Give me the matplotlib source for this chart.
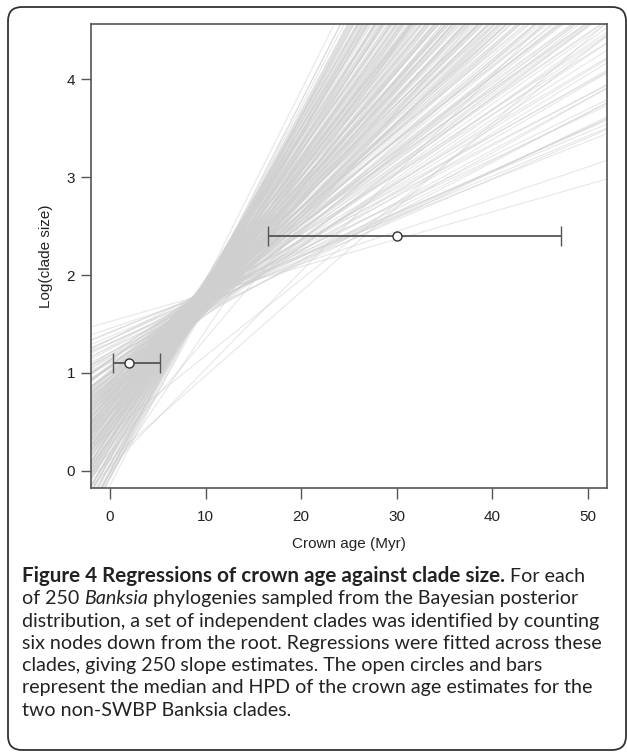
import matplotlib
matplotlib.use("Agg")
import matplotlib.pyplot as plt
from matplotlib.patches import FancyBboxPatch
from matplotlib.transforms import IdentityTransform

# posterior regression lines: slope and fitted log(clade size) at crown age 8 Myr
slopes = [
    0.028, 0.033, 0.043, 0.041, 0.042, 0.044, 0.039, 0.041,
    0.045, 0.046, 0.047, 0.048, 0.049, 0.050, 0.051, 0.052, 0.053, 0.054,
    0.055, 0.056, 0.057, 0.058, 0.059, 0.060, 0.061, 0.062, 0.064, 0.065,
    0.066, 0.067, 0.067, 0.068, 0.068, 0.069, 0.069, 0.070, 0.070, 0.071,
    0.071, 0.072, 0.072, 0.073, 0.073, 0.074, 0.074, 0.075, 0.075, 0.076,
    0.076, 0.077, 0.077, 0.078, 0.078, 0.079, 0.079, 0.080, 0.080, 0.081,
    0.081, 0.082, 0.082, 0.083, 0.083, 0.084, 0.084, 0.085, 0.085, 0.086,
    0.086, 0.087, 0.087, 0.088, 0.088, 0.089, 0.089, 0.090,
    0.090, 0.091, 0.091, 0.092, 0.092, 0.093, 0.093, 0.094, 0.094, 0.095,
    0.095, 0.096, 0.096, 0.097, 0.097, 0.098, 0.098, 0.099, 0.099, 0.100,
    0.100, 0.101, 0.101, 0.102, 0.102, 0.103, 0.103, 0.104, 0.104, 0.105,
    0.105, 0.106, 0.106, 0.107, 0.107, 0.108, 0.108, 0.109, 0.109, 0.110,
    0.091, 0.093, 0.095, 0.097, 0.099, 0.101, 0.103, 0.105, 0.107, 0.109,
    0.110, 0.111, 0.111, 0.112, 0.112, 0.113, 0.113, 0.114, 0.114, 0.115,
    0.115, 0.116, 0.116, 0.117, 0.117, 0.118, 0.118, 0.119, 0.119, 0.120,
    0.120, 0.121, 0.121, 0.122, 0.122, 0.123, 0.123, 0.124, 0.124, 0.125,
    0.125, 0.126, 0.126, 0.127, 0.127, 0.128, 0.128, 0.129, 0.129, 0.130,
    0.112, 0.116, 0.120, 0.124, 0.128,
    0.130, 0.131, 0.132, 0.132, 0.133, 0.134, 0.134, 0.135, 0.136, 0.136,
    0.137, 0.138, 0.138, 0.139, 0.140, 0.140, 0.141, 0.142, 0.142, 0.143,
    0.144, 0.144, 0.145, 0.146, 0.146, 0.147, 0.148, 0.148, 0.149, 0.150,
    0.133, 0.137, 0.141, 0.145, 0.146,
    0.150, 0.151, 0.152, 0.153, 0.154, 0.155, 0.155, 0.156, 0.157, 0.158,
    0.158, 0.159, 0.160, 0.161, 0.162, 0.162, 0.163, 0.164, 0.165, 0.166,
    0.167, 0.167, 0.168, 0.169, 0.170, 0.158,
    0.171, 0.172, 0.173, 0.174, 0.175, 0.176, 0.177, 0.178, 0.180, 0.181,
    0.182, 0.184, 0.185, 0.187, 0.188, 0.190, 0.192, 0.195,
]
fit_at_8 = [
    1.75, 1.72, 1.69, 1.70, 1.64, 1.66, 1.73, 1.74,
    1.62, 1.71, 1.55, 1.68, 1.60, 1.74, 1.52, 1.66, 1.58, 1.70,
    1.49, 1.63, 1.56, 1.67, 1.61, 1.53, 1.69, 1.57, 1.64, 1.51,
    1.58, 1.66, 1.49, 1.72, 1.61, 1.54, 1.69, 1.45, 1.63, 1.57,
    1.70, 1.51, 1.65, 1.59, 1.48, 1.67, 1.55, 1.62, 1.73, 1.44,
    1.60, 1.53, 1.68, 1.57, 1.02, 1.64, 1.50, 1.71, 1.56, 1.61,
    1.47, 1.66, 1.58, 1.52, 1.69, 1.55, 1.63, 1.46, 1.67, 1.59,
    0.80, 1.54, 1.65, 1.49, 1.62, 1.57, 1.70, 1.51,
    1.62, 1.55, 1.68, 1.49, 1.59, 1.71, 1.52, 1.64, 1.57, 1.46,
    1.66, 1.60, 1.53, 1.69, 1.43, 1.58, 1.63, 1.50, 1.67, 1.55,
    0.84, 1.61, 1.48, 1.70, 1.56, 1.65, 1.41, 1.59, 1.54, 1.68,
    1.51, 1.62, 1.47, 1.66, 1.57, 1.44, 1.60, 1.53, 1.69, 1.58,
    1.64, 1.50, 1.56, 1.61, 1.45, 1.67, 1.52, 1.59, 1.63, 1.48,
    1.57, 1.63, 1.48, 1.66, 1.54, 1.60, 1.42, 1.69, 1.51, 1.58,
    1.64, 1.46, 1.55, 1.61, 1.39, 1.67, 1.52, 1.59, 1.45, 1.63,
    1.56, 1.70, 1.49, 1.58, 1.62, 1.43, 1.54, 1.66, 1.50, 1.60,
    1.57, 1.41, 1.64, 1.53, 1.59, 1.47, 1.68, 1.55, 1.62, 1.50,
    1.61, 1.12, 1.44, 1.65, 1.52,
    1.55, 1.61, 1.47, 1.64, 1.52, 1.58, 1.40, 1.66, 1.50, 1.57,
    1.62, 1.44, 1.54, 1.60, 1.38, 1.65, 1.51, 1.57, 1.46, 1.63,
    1.53, 1.68, 1.48, 1.56, 1.61, 1.42, 1.55, 1.64, 1.49, 1.59,
    1.58, 1.63, 1.46, 1.56, 1.14,
    1.53, 1.59, 1.45, 1.62, 1.50, 1.56, 1.39, 1.64, 1.48, 1.55,
    1.60, 1.43, 1.52, 1.58, 1.37, 1.63, 1.49, 1.55, 1.44, 1.61,
    1.51, 1.57, 1.46, 1.53, 1.41, 1.57,
    1.50, 1.56, 1.43, 1.52, 1.33, 1.54, 1.40, 1.49, 1.45, 1.51,
    1.38, 1.46, 1.42, 1.48, 1.36, 1.50, 1.47, 1.55,
]
pivot_age = 8

# two non-SWBP Banksia clades: median crown age, HPD and log(clade size)
crown_age = [1.95, 30.05]
hpd_low = [0.25, 16.5]
hpd_high = [5.25, 47.2]
log_size = [1.0986, 2.3979]

xticks = [0, 10, 20, 30, 40, 50]
yticks = [0, 1, 2, 3, 4]

caption = [
    [("Figure 4 Regressions of crown age against clade size.", "bold", "normal"),
     (" For each", "normal", "normal")],
    [("of 250 ", "normal", "normal"), ("Banksia", "normal", "italic"),
     (" phylogenies sampled from the Bayesian posterior", "normal", "normal")],
    [("distribution, a set of independent clades was identified by counting", "normal", "normal")],
    [("six nodes down from the root. Regressions were fitted across these", "normal", "normal")],
    [("clades, giving 250 slope estimates. The open circles and bars", "normal", "normal")],
    [("represent the median and HPD of the crown age estimates for the", "normal", "normal")],
    [("two non-SWBP Banksia clades.", "normal", "normal")],
]

W, H = 627, 752
fig = plt.figure(figsize=(W / 100, H / 100), dpi=100)
ax = fig.add_axes([91 / W, 1 - 488 / H, (607 - 91) / W, (488 - 24) / H])

for b, c in zip(slopes, fit_at_8):
    ax.axline((pivot_age, c), slope=b, color="#cfcfcf", alpha=0.5, lw=0.8, zorder=1)

ax.errorbar(crown_age, log_size,
            xerr=[[m - lo for m, lo in zip(crown_age, hpd_low)],
                  [hi - m for m, hi in zip(crown_age, hpd_high)]],
            fmt="o", ms=6.5, mfc="white", mec="#333333", mew=1.0,
            ecolor="#555555", elinewidth=1.3, capsize=7, capthick=1.3, zorder=3)

ax.set_xlim(-2, 52)
ax.set_ylim(-0.176, 4.566)
ax.set_xticks(xticks)
ax.set_yticks(yticks)
for sp in ax.spines.values():
    sp.set_color("#555555")
    sp.set_linewidth(1.2)
ax.tick_params(width=1.0, color="#555555", labelsize=11, labelcolor="#222222")
ax.tick_params(axis="x", length=8, pad=8)
ax.tick_params(axis="y", length=7, pad=4.5)
for lab in ax.get_xticklabels() + ax.get_yticklabels():
    lab.set_family("Liberation Sans")
ax.set_xlabel("Crown age (Myr)", fontsize=11, family="Liberation Sans", color="#222222", labelpad=9.5)
ax.set_ylabel("Log(clade size)", fontsize=11, family="Liberation Sans", color="#222222", labelpad=10)

frame = FancyBboxPatch((8, 2), 618, 743, boxstyle="round,pad=0,rounding_size=14",
                       transform=IdentityTransform(), fill=False, ec="#333333", lw=1.3)
fig.add_artist(frame)

fig.canvas.draw()
r = fig.canvas.get_renderer()
baseline = 582
for line in caption:
    x = 22
    for s, weight, style in line:
        size = 14.9 if weight == "bold" else 14.1
        t = fig.text(x / W, 1 - baseline / H, s, fontsize=size, family="Lato",
                     weight=weight, style=style, va="baseline", ha="left", color="#222222")
        x += t.get_window_extent(r).width
    baseline += 22.3

fig.savefig("out.png", dpi=100)
